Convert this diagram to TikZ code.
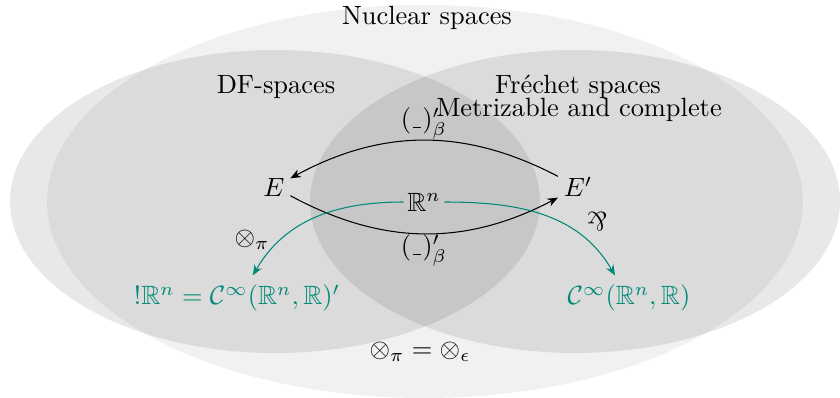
\documentclass[tikz,border=0pt]{standalone}
\usepackage{amssymb}
\usepackage{graphicx}
\usetikzlibrary{arrows.meta}
\definecolor{tealgreen}{RGB}{0,137,120}
\newcommand{\myparr}{\rotatebox[origin=c]{180}{$\&$}}
\newcommand{\myus}{\kern.06em\vbox{\hrule width.3em}\kern.06em}
\begin{document}
\begin{tikzpicture}[x=0.3786pt,y=-0.3786pt,
  region/.style={fill=black,fill opacity=#1},
  arr/.style={-{Stealth[length=4pt,width=3.2pt]}},
  grn/.style={draw=tealgreen,arr},
  grntext/.style={text=tealgreen}]
\useasboundingbox (0,0) rectangle (840,398);
\fill[region=0.055] (425,201.5) ellipse [x radius=378, y radius=196.5];
\fill[region=0.09] (275,201.5) ellipse [x radius=265, y radius=151.5];
\fill[region=0.09] (575,201.5) ellipse [x radius=265, y radius=151.5];

\node (nuc) at (427,18) {Nuclear spaces};
\node (df) at (276,87) {DF-spaces};
\node (fr) at (578,87) {Fréchet spaces};
\node (mc) at (579,110) {Metrizable and complete};

\node[inner sep=2pt] (E) at (274,187) {$E$};
\node[inner sep=2pt] (Ep) at (578,187) {$E'$};
\node[inner sep=1.2pt] (Rn) at (424,202) {$\mathbb{R}^n$};
\node[grntext] (L) at (237,298) {$!\mathbb{R}^n = \mathcal{C}^\infty(\mathbb{R}^n,\mathbb{R})'$};
\node[grntext] (R) at (629,298) {$\mathcal{C}^\infty(\mathbb{R}^n,\mathbb{R})$};
\node (eq) at (420,352) {$\otimes_\pi = \otimes_\epsilon$};
\node (lp) at (252,240) {$\otimes_\pi$};
\node (lq) at (597,222) {\myparr};

\draw[arr] (Ep) to[bend right=28] node[midway,above=-3pt] (lu) {$(\myus)'_\beta$} (E);
\draw[arr] (E) to[bend right=28] node[midway,below=-3pt] (ld) {$(\myus)'_\beta$} (Ep);

\draw[grn] (Rn.west) to[out=180,in=60] ([xshift=6pt]L.north);
\draw[grn] (Rn.east) to[out=0,in=120] ([xshift=-5.3pt]R.north);
\end{tikzpicture}
\end{document}
